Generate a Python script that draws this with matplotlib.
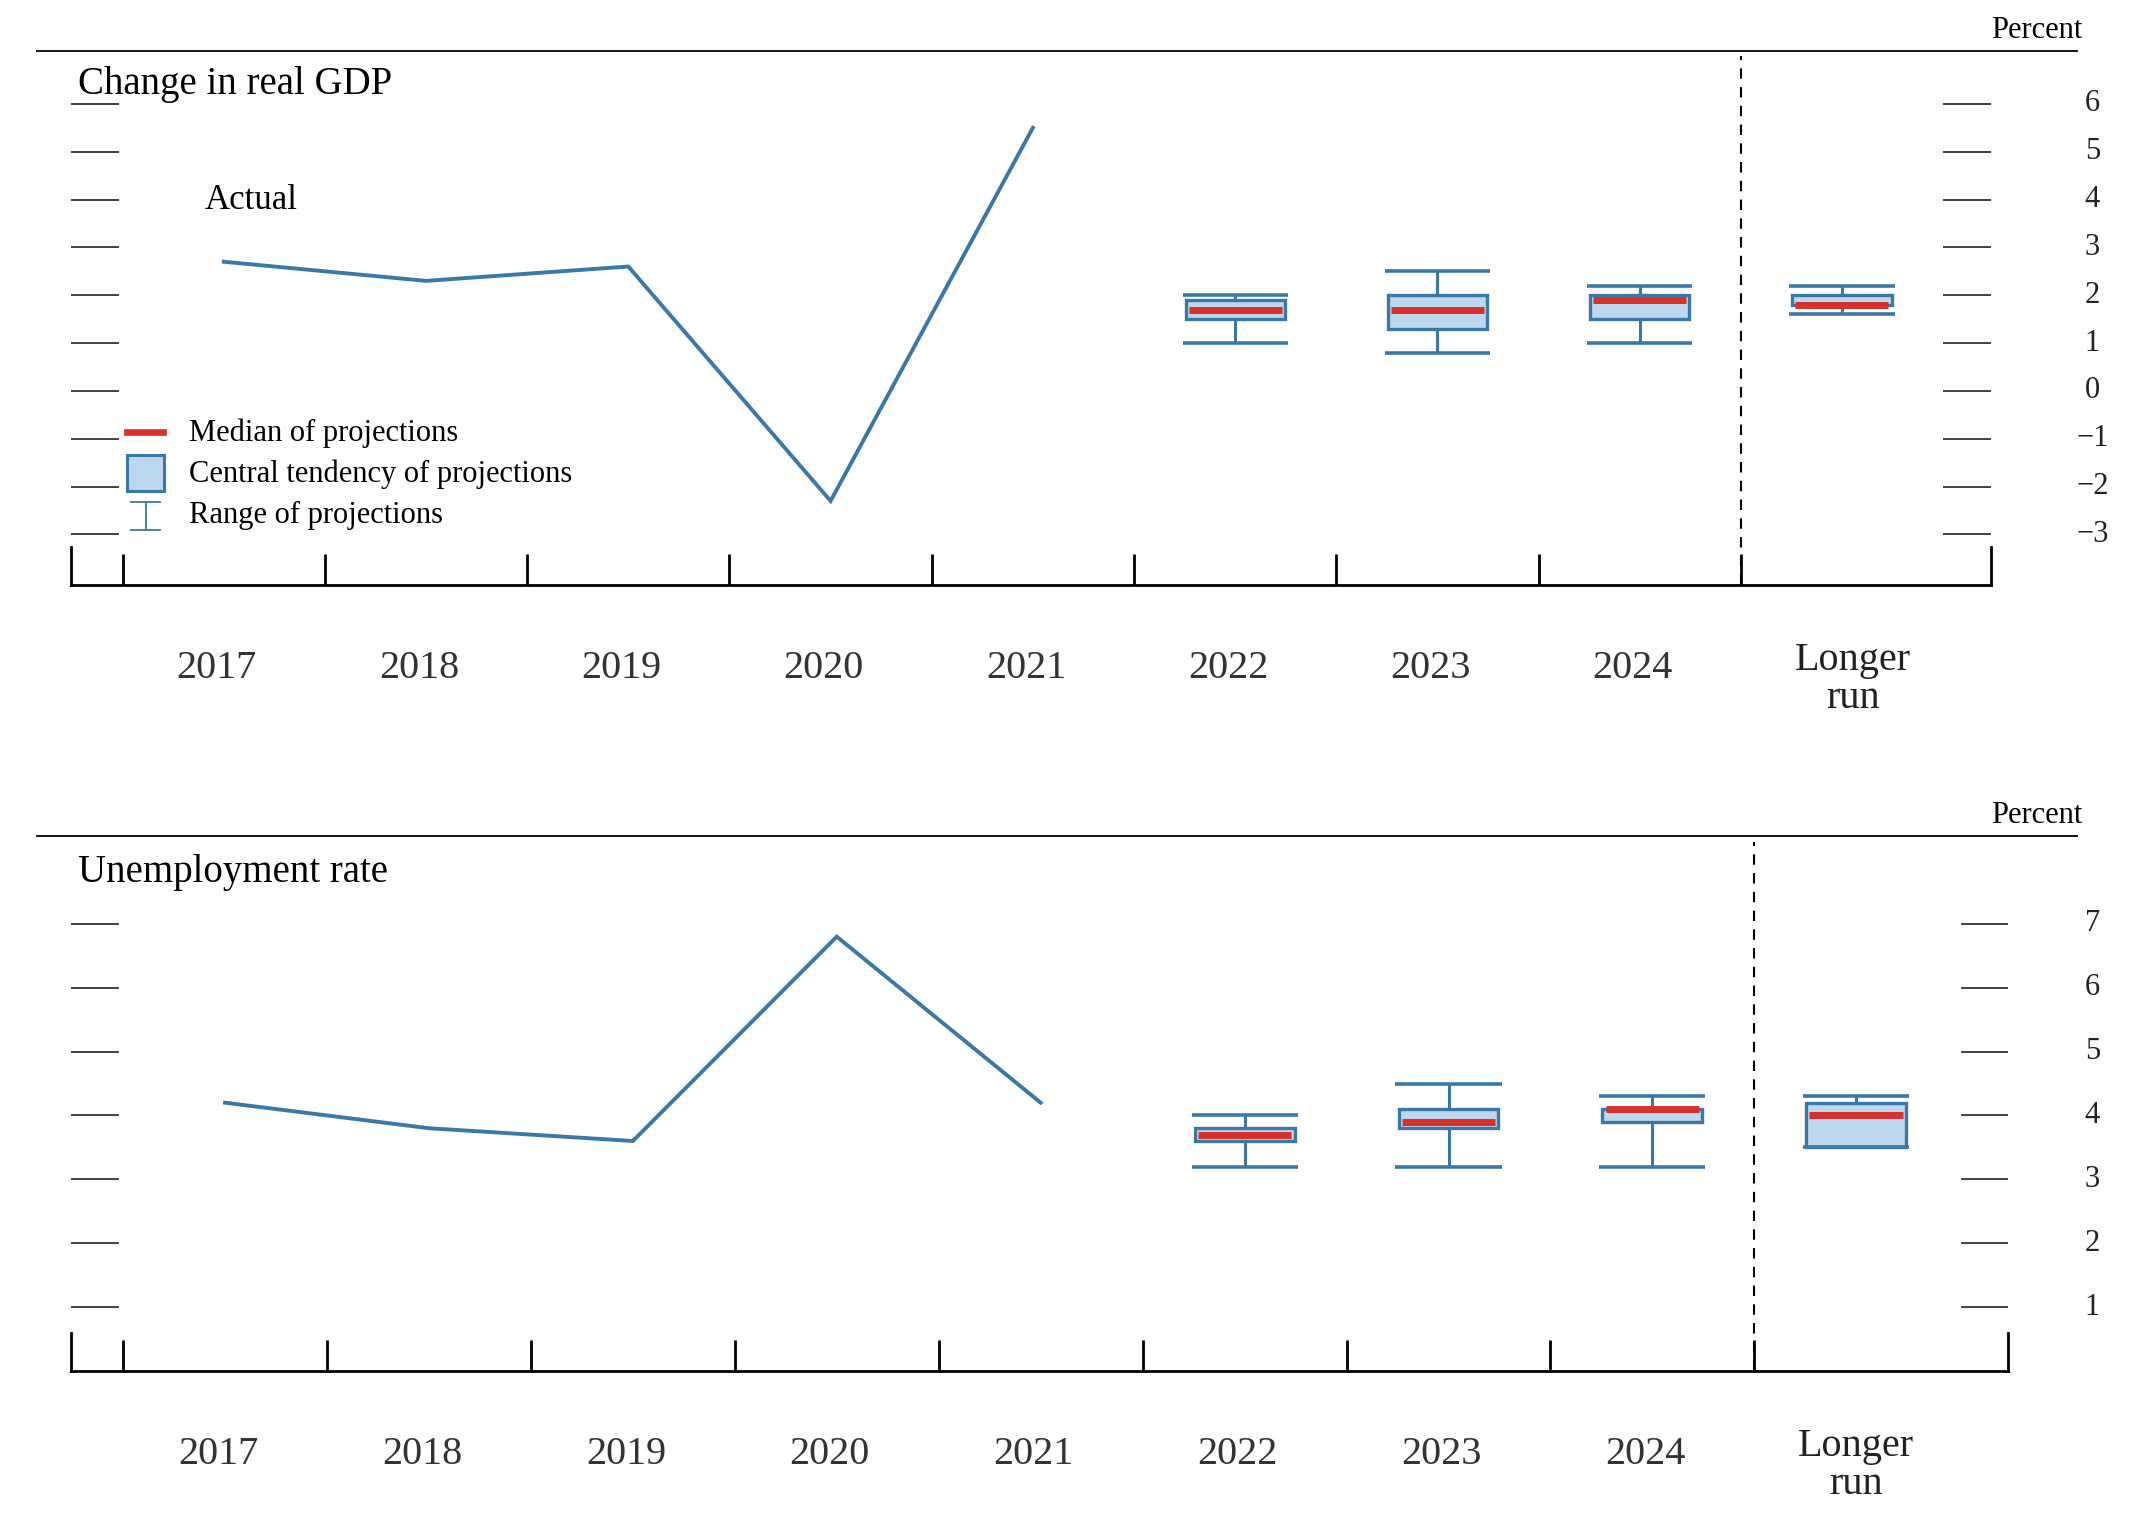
import matplotlib
matplotlib.use("Agg")
import matplotlib.pyplot as plt
import matplotlib.transforms as mtransforms
from matplotlib.lines import Line2D
from matplotlib.patches import Rectangle

plt.rcParams['font.family'] = ['Liberation Serif', 'DejaVu Serif']

# ---------------- data ----------------
categories = ["2017", "2018", "2019", "2020", "2021", "2022", "2023", "2024", "Longer\nrun"]
actual_years = ["2017", "2018", "2019", "2020", "2021"]
proj_labels = ["2022", "2023", "2024", "Longer\nrun"]

gdp_actual = [2.7, 2.3, 2.6, -2.3, 5.5]
gdp_median = [1.7, 1.7, 1.9, 1.8]
gdp_ct_lo = [1.5, 1.3, 1.5, 1.8]
gdp_ct_hi = [1.9, 2.0, 2.0, 2.0]
gdp_rng_lo = [1.0, 0.8, 1.0, 1.6]
gdp_rng_hi = [2.0, 2.5, 2.2, 2.2]
gdp_yticks = [6, 5, 4, 3, 2, 1, 0, -1, -2, -3]

ur_actual = [4.2, 3.8, 3.6, 6.8, 4.2]
ur_median = [3.7, 3.9, 4.1, 4.0]
ur_ct_lo = [3.6, 3.8, 3.9, 3.5]
ur_ct_hi = [3.8, 4.1, 4.1, 4.2]
ur_rng_lo = [3.2, 3.2, 3.2, 3.5]
ur_rng_hi = [4.0, 4.5, 4.3, 4.3]
ur_yticks = [7, 6, 5, 4, 3, 2, 1]

BLUE = "#3A78A8"
FILL = "#BDD7EE"
RED = "#D9302A"

W, H = 2132, 1524
fig = plt.figure(figsize=(W / 100, H / 100), dpi=100)
DW, DH = 1560.0, 1115.0  # reference layout units


def fx(x):
    return x / DW


def fy(y):
    return 1 - y / DH


def panel(rect_disp, ylim, xlim, title, actual, med, clo, chi, rlo, rhi, yticks,
          right_tick_len, lr_dx, title_y, rule_y):
    l, t, r, b = rect_disp
    ax = fig.add_axes([fx(l), fy(b), fx(r) - fx(l), fy(t) - fy(b)])
    ax.set_xlim(*xlim)
    ax.set_ylim(*ylim)
    ax.patch.set_alpha(0)
    for s in ["top", "right"]:
        ax.spines[s].set_visible(False)
    ax.spines["bottom"].set_linewidth(2.0)
    ax.spines["left"].set_linewidth(2.0)
    ax.spines["right"].set_visible(True)
    ax.spines["right"].set_linewidth(2.0)
    endlen = 28 / (b - t) * (ylim[1] - ylim[0])
    ax.spines["left"].set_bounds(ylim[0], ylim[0] + endlen)
    ax.spines["right"].set_bounds(ylim[0], ylim[0] + endlen)

    n = len(categories)
    ax.set_xticks([i - 0.5 for i in range(n)])
    ax.set_xticklabels([])
    ax.tick_params(axis="x", direction="in", length=22, width=2.0, color="black")
    ax.set_yticks([])

    # horizontal value tick marks on both sides
    frac_left = 35 / (r - l)
    ax.hlines(yticks, 0, frac_left, transform=ax.get_yaxis_transform(),
              color="#333333", lw=1.3)
    ax.hlines(yticks, 1 - right_tick_len / (r - l), 1, transform=ax.get_yaxis_transform(),
              color="#333333", lw=1.3)
    lab_tr = mtransforms.blended_transform_factory(fig.transFigure, ax.transData)
    for v in yticks:
        s = str(v) if v >= 0 else "\u2212" + str(-v)
        ax.text(fx(1531), v, s, transform=lab_tr, ha="center", va="center",
                fontsize=22, color="#222222")

    # category labels
    xtr = ax.get_xaxis_transform()
    for i, c in enumerate(categories):
        if "\n" in c:
            ax.annotate(c, xy=(i, 0), xycoords=xtr, xytext=(lr_dx, -68),
                        textcoords="offset points", ha="center", va="center",
                        fontsize=29, linespacing=1.02, color="#222222")
        else:
            ax.annotate(c, xy=(i, 0), xycoords=xtr, xytext=(-5, -60),
                        textcoords="offset points", ha="center", va="center",
                        fontsize=29, color="#333333")

    # actual line
    xa = [categories.index(y) for y in actual_years]
    ax.plot(xa, actual, color=BLUE, lw=2.8, solid_joinstyle="miter", zorder=3)

    # projections
    xp = [categories.index(p) for p in proj_labels]
    bw = 0.49
    cw = 0.52
    hb = [h - lo for h, lo in zip(chi, clo)]
    ax.bar(xp, hb, bottom=clo, width=bw, color=FILL, edgecolor=BLUE, linewidth=2.4, zorder=3)
    ax.vlines(xp, rlo, clo, color=BLUE, lw=2.2, zorder=2)
    ax.vlines(xp, chi, rhi, color=BLUE, lw=2.2, zorder=2)
    ax.hlines(rlo, [x - cw / 2 for x in xp], [x + cw / 2 for x in xp], color=BLUE, lw=2.6, zorder=4)
    ax.hlines(rhi, [x - cw / 2 for x in xp], [x + cw / 2 for x in xp], color=BLUE, lw=2.6, zorder=4)
    ax.hlines(med, [x - bw / 2 + 0.015 for x in xp], [x + bw / 2 - 0.015 for x in xp],
              color=RED, lw=5.0, zorder=5)

    # dashed divider
    ax.axvline(7.5, ymin=0, ymax=0.99, color="black", lw=1.5, linestyle=(0, (5, 4)), zorder=1)

    # title
    ax.text((57 - l) / (r - l), (b - title_y) / (b - t), title, transform=ax.transAxes,
            ha="left", va="center", fontsize=28, color="black")

    # top rule and Percent
    fig.add_artist(Line2D([fx(27), fx(1520)], [fy(rule_y), fy(rule_y)],
                          transform=fig.transFigure, color="black", lw=1.3))
    fig.text(fx(1524), fy(rule_y - 15), "Percent", ha="right", va="center",
             fontsize=22, color="black")
    return ax


ax1 = panel((52, 37, 1457, 428), (-4.057, 7.114), (-0.755, 8.738), "Change in real GDP",
            gdp_actual, gdp_median, gdp_ct_lo, gdp_ct_hi, gdp_rng_lo, gdp_rng_hi, gdp_yticks,
            35, 8, 62, 37)
ax2 = panel((52, 612, 1469, 1003), (0.0, 8.368), (-0.755, 8.742), "Unemployment rate",
            ur_actual, ur_median, ur_ct_lo, ur_ct_hi, ur_rng_lo, ur_rng_hi, ur_yticks,
            34, 0, 638, 612)

# "Actual" label
ax1.text((150 - 52) / 1405, (428 - 147) / 391, "Actual", transform=ax1.transAxes,
         ha="left", va="center", fontsize=25, color="black")

# legend (top panel)
def axf(x, y):
    return ((x - 52) / 1405, (428 - y) / 391)

tA = ax1.transAxes
p0, p1 = axf(93, 316), axf(119, 316)
ax1.add_line(Line2D([p0[0], p1[0]], [p0[1], p1[1]], transform=tA, color=RED, lw=4.8))
b0 = axf(93, 359)
b1 = axf(120, 333)
ax1.add_patch(Rectangle(b0, b1[0] - b0[0], b1[1] - b0[1], transform=tA,
                        facecolor=FILL, edgecolor=BLUE, lw=2.2))
c = axf(106.5, 367)
d = axf(106.5, 388)
ax1.add_line(Line2D([c[0], d[0]], [c[1], d[1]], transform=tA, color=BLUE, lw=1.3))
for yy in (367, 388):
    a0, a1 = axf(96, yy), axf(117, yy)
    ax1.add_line(Line2D([a0[0], a1[0]], [a0[1], a1[1]], transform=tA, color=BLUE, lw=1.3))
for txt, yy in [("Median of projections", 317), ("Central tendency of projections", 347),
                ("Range of projections", 377)]:
    px, py = axf(138, yy)
    ax1.text(px, py, txt, transform=tA, ha="left", va="center", fontsize=22, color="black")

fig.savefig("out.png", dpi=100)
